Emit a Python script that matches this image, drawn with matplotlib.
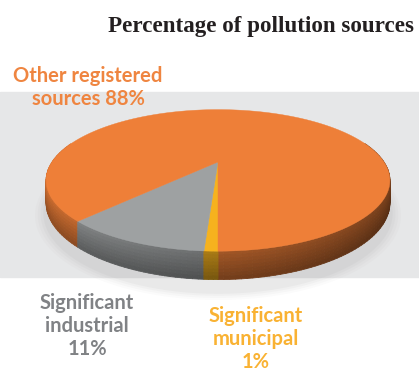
import matplotlib.pyplot as plt
import numpy as np
from matplotlib.collections import PolyCollection
from matplotlib.colors import to_rgb

# Datos del gráfico
fuentes = ["Significant\nmunicipal", "Significant\nindustrial", "Other registered\nsources"]
porcentajes = [1, 11, 88]
colores = ["#F6B21E", "#9EA1A2", "#EE7F38"]
colores_texto = ["#F9B233", "#808285", "#EF8540"]
titulo = "Percentage of pollution sources"

# Geometría del pastel en perspectiva (píxeles)
CX, CY = 218, 162
RX, RY = 166, 66
K = 0.26
ALTO = 21


def proyectar(x, z, h=0.0):
    d = 1 - K * z
    return CX + RX * x / d, CY + (RY * z + h) / d


def oscurecer(color, factor):
    r, g, b = to_rgb(color)
    return (min(r * factor, 1), min(g * factor, 1), min(b * factor, 1))


fig = plt.figure(figsize=(4.19, 3.72), dpi=100)
ax = fig.add_axes([0, 0, 1, 1])
ax.set_xlim(0, 419)
ax.set_ylim(372, 0)
ax.axis("off")

# Franja gris de fondo
ax.axhspan(92, 277, color="#E6E7E8", zorder=0)

# Sombra difusa bajo el pastel
t = np.linspace(0, 2 * np.pi, 200)
for escala, alfa in [(1.06, 0.04), (1.045, 0.05), (1.03, 0.06), (1.015, 0.08)]:
    sx, sy = proyectar(np.cos(t) * escala, np.sin(t) * escala, ALTO + 9)
    ax.fill(sx, sy, color="#9a9a9a", alpha=alfa, lw=0, zorder=1)

# Ángulos de cada porción
fracciones = np.cumsum([0] + porcentajes) / sum(porcentajes)
angulos = 2 * np.pi * fracciones

# Lados del cilindro, de atrás hacia adelante, con degradado vertical
segmentos = []
colores_seg = []
profundidad = []
niveles = np.linspace(0, 1, 9)
for i, color in enumerate(colores):
    n = max(4, int(240 * (fracciones[i + 1] - fracciones[i])) + 2)
    ts = np.linspace(angulos[i], angulos[i + 1], n)
    for a, b in zip(ts[:-1], ts[1:]):
        xa, za = -np.sin(a), np.cos(a)
        xb, zb = -np.sin(b), np.cos(b)
        zm = (za + zb) / 2
        if zm < -0.3:
            continue
        luz = 0.88 - 0.38 * ((xa + xb) / 2 + 1) / 2
        for h0, h1 in zip(niveles[:-1], niveles[1:]):
            f = 1.0 - 0.3 * (h0 + h1) / 2
            p1 = proyectar(xa, za, ALTO * h0)
            p2 = proyectar(xb, zb, ALTO * h0)
            p3 = proyectar(xb, zb, ALTO * h1)
            p4 = proyectar(xa, za, ALTO * h1)
            segmentos.append([p1, p2, p3, p4])
            colores_seg.append(oscurecer(color, luz * f))
            profundidad.append(zm)

orden = np.argsort(profundidad, kind="stable")
cols = [colores_seg[j] for j in orden]
lados = PolyCollection([segmentos[j] for j in orden], facecolors=cols,
                       edgecolors=cols, linewidths=0.6, zorder=2)
ax.add_collection(lados)

# Cara superior
for i, color in enumerate(colores):
    ts = np.linspace(angulos[i], angulos[i + 1], 200)
    xs, ys = proyectar(-np.sin(ts), np.cos(ts))
    xs = np.concatenate([[CX], xs])
    ys = np.concatenate([[CY], ys])
    ax.fill(xs, ys, color=color, lw=0.3, ec=color, zorder=3)

# Título
ax.text(414, 32, titulo, ha="right", va="baseline", fontsize=16.6, fontweight="bold",
        family="Liberation Serif", color="#231F20")

# Etiquetas (y = línea base de la última línea)
posiciones = [(256, 368), (87, 355), (88, 105)]
for fuente, valor, color, (x, y) in zip(fuentes, porcentajes, colores_texto, posiciones):
    if valor > 50:
        texto = f"{fuente} {valor}%"
    else:
        texto = f"{fuente}\n{valor}%"
    ax.text(x, y, texto, ha="center", va="baseline", fontsize=14.5, fontweight="bold",
            family="Lato", color=color, linespacing=1.2, multialignment="center")

fig.savefig("out.png", dpi=100)
